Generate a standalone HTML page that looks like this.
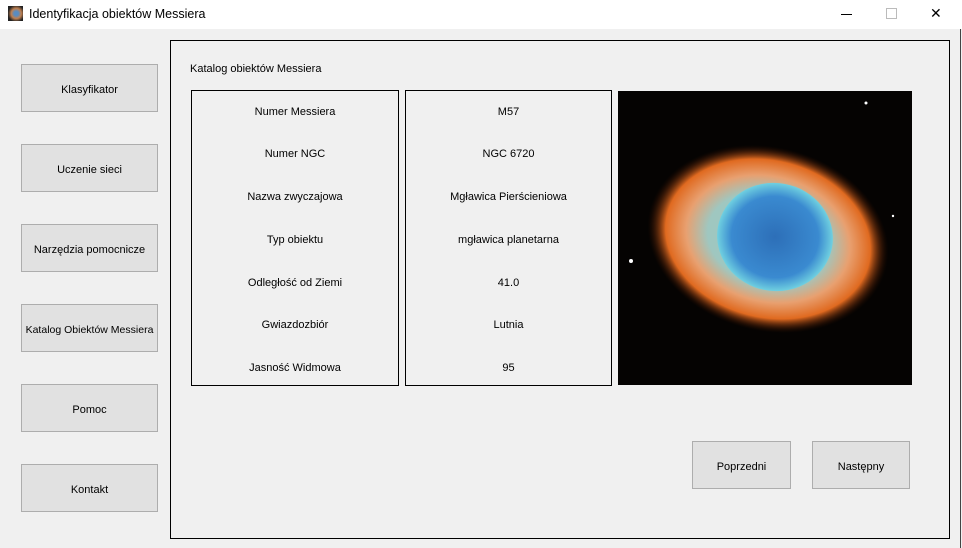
<!DOCTYPE html>
<html><head><meta charset="utf-8"><style>
body{margin:0;width:962px;height:548px;background:#f0f0f0;font-family:"Liberation Sans",sans-serif;font-size:11px;color:#000;position:relative;overflow:hidden}
.a{position:absolute}
.btn{position:absolute;background:#e1e1e1;border:1px solid #adadad;box-sizing:border-box;display:flex;align-items:center;justify-content:center;font-size:11px;white-space:nowrap;padding-top:3px}
.box{position:absolute;border:1px solid #000;box-sizing:border-box}
.cell{position:absolute;left:0;right:0;text-align:center;transform:translateY(-50%)}
</style></head><body>
<div class="a" style="left:0;top:0;width:962px;height:29px;background:#fff">
 <div class="a" style="left:8px;top:6px;width:15px;height:15px;background:radial-gradient(circle at 55% 50%,#5a8cc0 20%,#c08050 45%,#222 75%)"></div>
 <div class="a" style="left:29px;top:7px;font-size:12.5px">Identyfikacja obiektów Messiera</div>
 <div class="a" style="left:841px;top:14px;width:11px;height:1px;background:#000"></div>
 <div class="a" style="left:886px;top:8px;width:9px;height:9px;border:1px solid #bbb"></div>
 <div class="a" style="left:930px;top:5px;font-size:14px">✕</div>
</div>
<div class="btn" style="left:21px;top:64px;width:137px;height:48px">Klasyfikator</div>
<div class="btn" style="left:21px;top:144px;width:137px;height:48px">Uczenie sieci</div>
<div class="btn" style="left:21px;top:224px;width:137px;height:48px">Narzędzia pomocnicze</div>
<div class="btn" style="left:21px;top:304px;width:137px;height:48px;font-size:10.5px">Katalog Obiektów Messiera</div>
<div class="btn" style="left:21px;top:384px;width:137px;height:48px">Pomoc</div>
<div class="btn" style="left:21px;top:464px;width:137px;height:48px">Kontakt</div>
<div class="box" style="left:170px;top:40px;width:780px;height:499px"></div>
<div class="a" style="left:190px;top:63px">Katalog obiektów Messiera</div>
<div class="box" style="left:191px;top:90px;width:208px;height:296px">
 <div class="cell" style="top:21px">Numer Messiera</div>
 <div class="cell" style="top:63px">Numer NGC</div>
 <div class="cell" style="top:106px">Nazwa zwyczajowa</div>
 <div class="cell" style="top:149px">Typ obiektu</div>
 <div class="cell" style="top:192px">Odległość od Ziemi</div>
 <div class="cell" style="top:234px">Gwiazdozbiór</div>
 <div class="cell" style="top:277px">Jasność Widmowa</div>
</div>
<div class="box" style="left:405px;top:90px;width:207px;height:296px">
 <div class="cell" style="top:21px">M57</div>
 <div class="cell" style="top:63px">NGC 6720</div>
 <div class="cell" style="top:106px">Mgławica Pierścieniowa</div>
 <div class="cell" style="top:149px">mgławica planetarna</div>
 <div class="cell" style="top:192px">41.0</div>
 <div class="cell" style="top:234px">Lutnia</div>
 <div class="cell" style="top:277px">95</div>
</div>
<svg class="a" style="left:618px;top:91px" width="294" height="294">
 <defs>
  <radialGradient id="o" cx="50%" cy="50%" r="50%">
   <stop offset="0.5" stop-color="#9fc7c0"/><stop offset="0.68" stop-color="#e8a070"/><stop offset="0.85" stop-color="#e06a20"/><stop offset="1" stop-color="#3a1000" stop-opacity="0"/>
  </radialGradient>
  <radialGradient id="b" cx="50%" cy="50%" r="50%">
   <stop offset="0" stop-color="#2d6fb8"/><stop offset="0.75" stop-color="#3a8ad0"/><stop offset="1" stop-color="#70d0e0"/>
  </radialGradient>
 </defs>
 <rect width="294" height="294" fill="#050302"/>
 <ellipse cx="150" cy="148" rx="122" ry="92" transform="rotate(14 150 148)" fill="url(#o)"/>
 <ellipse cx="157" cy="146" rx="58" ry="54" transform="rotate(10 157 146)" fill="url(#b)"/>
 <circle cx="13" cy="170" r="2" fill="#fff"/><circle cx="248" cy="12" r="1.5" fill="#fff"/><circle cx="275" cy="125" r="1.2" fill="#fff"/>
</svg>
<div class="btn" style="left:692px;top:441px;width:99px;height:48px">Poprzedni</div>
<div class="btn" style="left:812px;top:441px;width:98px;height:48px">Następny</div>
<div class="a" style="left:960px;top:29px;width:1px;height:519px;background:#444"></div>
</body></html>
